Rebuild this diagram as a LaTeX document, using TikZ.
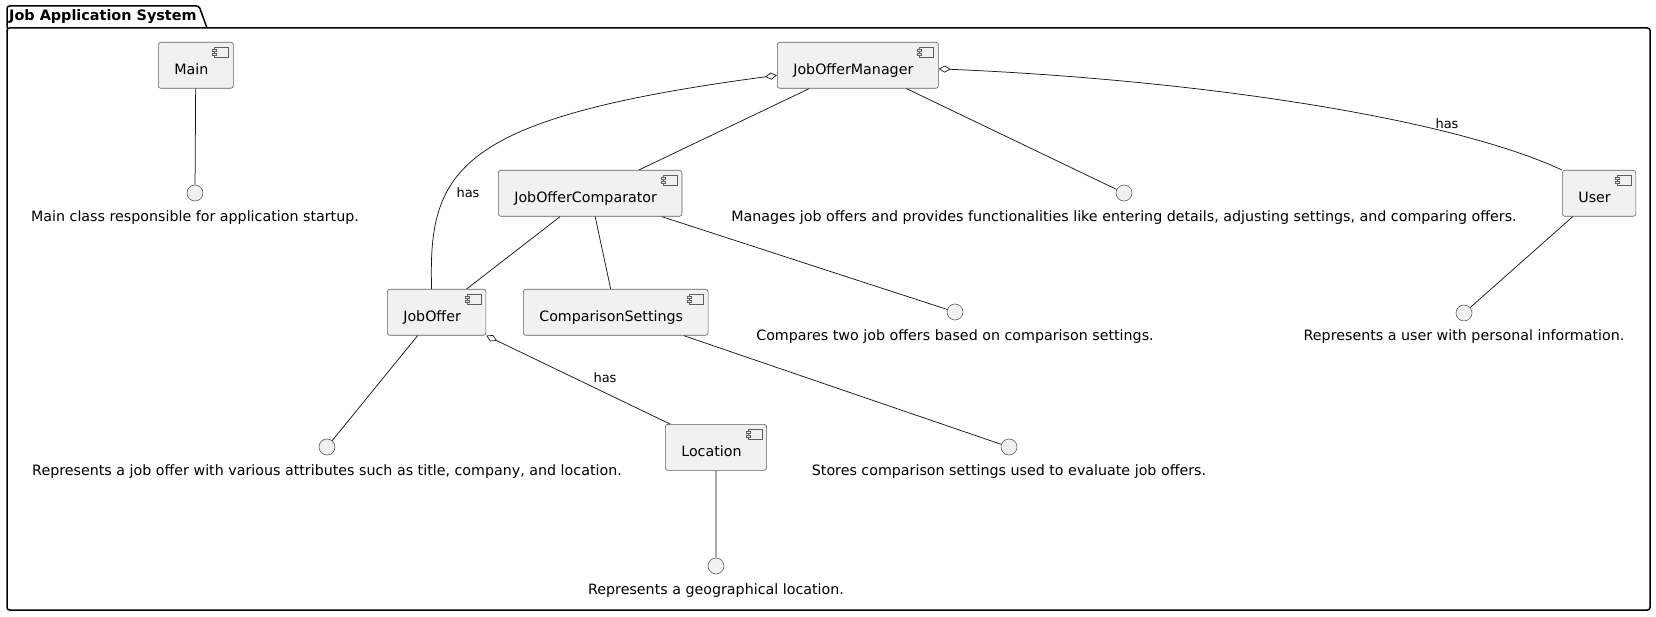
\documentclass[tikz,border=0pt]{standalone}
\usepackage{fontspec}
\setmainfont{DejaVu Sans}
\usetikzlibrary{arrows.meta}
\definecolor{boxfill}{HTML}{F1F1F1}
\definecolor{edgec}{HTML}{181818}
\definecolor{boxline}{HTML}{5E5E5E}
\newcommand\compname[1]{\hspace*{16pt}#1\hspace*{25pt}}
\newcommand\compicon[1]{%
  \draw[draw=boxline,line width=0.5pt,fill=boxfill] ([shift={(-19pt,-5pt)}]#1.north east) rectangle ([shift={(-5pt,-15pt)}]#1.north east);
  \draw[draw=boxline,line width=0.5pt,fill=boxfill] ([shift={(-21pt,-7pt)}]#1.north east) rectangle ([shift={(-17pt,-9pt)}]#1.north east);
  \draw[draw=boxline,line width=0.5pt,fill=boxfill] ([shift={(-21pt,-11pt)}]#1.north east) rectangle ([shift={(-17pt,-13pt)}]#1.north east);}
\tikzset{
  comp/.style={draw=boxline, line width=0.6pt, fill=boxfill, rounded corners=2.5pt,
    inner xsep=0pt, inner ysep=0pt, text height=32pt, text depth=14pt,
    anchor=north west, font=\fontsize{14.25}{16}\selectfont},
  iface/.style={circle, draw=boxline, line width=0.6pt, fill=boxfill, minimum size=16pt, inner sep=0pt},
  desc/.style={inner sep=0pt, font=\fontsize{14.25}{16}\selectfont},
  elabel/.style={inner sep=0pt, font=\fontsize{13}{15}\selectfont},
  conn/.style={draw=edgec, line width=0.75pt},
  agg/.style={conn, {Diamond[open, length=12pt, width=7pt, line width=0.7pt]}-},
  frame/.style={draw=black, line width=1.5pt, rounded corners=2.5pt}
}
\begin{document}
\begin{tikzpicture}[x=1pt,y=-1pt]
\useasboundingbox (0,0) rectangle (1656,617);
% package frame
\draw[frame] (7,28) rectangle (1650,610);
\draw[frame] (7,28) -- (7,6) -- (199,6) -- (207,28);
\node[anchor=base west, inner sep=0pt, font=\bfseries\fontsize{14.4}{16}\selectfont] (title) at (9,21) {Job Application System};
% components
\node[comp] (Main) at (158,42) {\compname{Main}};
\node[comp] (JOM) at (777,42) {\compname{JobOfferManager}};
\node[comp] (JOC) at (498,170) {\compname{JobOfferComparator}};
\node[comp] (User) at (1562,170) {\compname{User}};
\node[comp] (JO) at (387,289) {\compname{JobOffer}};
\node[comp] (CS) at (523,289) {\compname{ComparisonSettings}};
\node[comp] (Loc) at (665,424) {\compname{Location}};
\compicon{Main}\compicon{JOM}\compicon{JOC}\compicon{User}\compicon{JO}\compicon{CS}\compicon{Loc}
% interfaces
\node[iface] (iMain) at (195,193) {};
\node[iface] (iJOM) at (1124,193) {};
\node[iface] (iJOC) at (955,312) {};
\node[iface] (iUser) at (1464,313) {};
\node[iface] (iJO) at (327,447) {};
\node[iface] (iCS) at (1009,447) {};
\node[iface] (iLoc) at (716,566) {};
% descriptions
\node[desc] (tMain) at (195,218) {Main class responsible for application startup.};
\node[desc] (tJOM) at (1124,218) {Manages job offers and provides functionalities like entering details, adjusting settings, and comparing offers.};
\node[desc] (tJOC) at (955,337) {Compares two job offers based on comparison settings.};
\node[desc] (tUser) at (1464,337) {Represents a user with personal information.};
\node[desc] (tJO) at (327,472) {Represents a job offer with various attributes such as title, company, and location.};
\node[desc] (tCS) at (1009,472) {Stores comparison settings used to evaluate job offers.};
\node[desc] (tLoc) at (716,591) {Represents a geographical location.};
% connectors
\draw[conn] (Main) -- (iMain);
\draw[conn] (JOM) -- (JOC);
\draw[conn] (JOM) -- (iJOM);
\draw[conn] (JOC) -- (JO);
\draw[conn] (JOC) -- (CS);
\draw[conn] (JOC) -- (iJOC);
\draw[conn] (CS) -- (iCS);
\draw[conn] (JO) -- (iJO);
\draw[conn] (User) -- (iUser);
\draw[conn] (Loc) -- (iLoc);
\draw[agg] ([yshift=-10pt]JOM.west) .. controls (455,118) and (428,170) .. ([xshift=-5pt]JO.north);
\draw[agg] ([yshift=-3.5pt]JOM.east) .. controls (1200,80) and (1450,118) .. (User.north west);
\draw[agg] (JO.south east) -- ([xshift=5pt]Loc.north west);
% connector labels
\node[elabel] (h1) at (468,193) {has};
\node[elabel] (h2) at (1447,124) {has};
\node[elabel] (h3) at (605,378) {has};
\end{tikzpicture}
\end{document}
